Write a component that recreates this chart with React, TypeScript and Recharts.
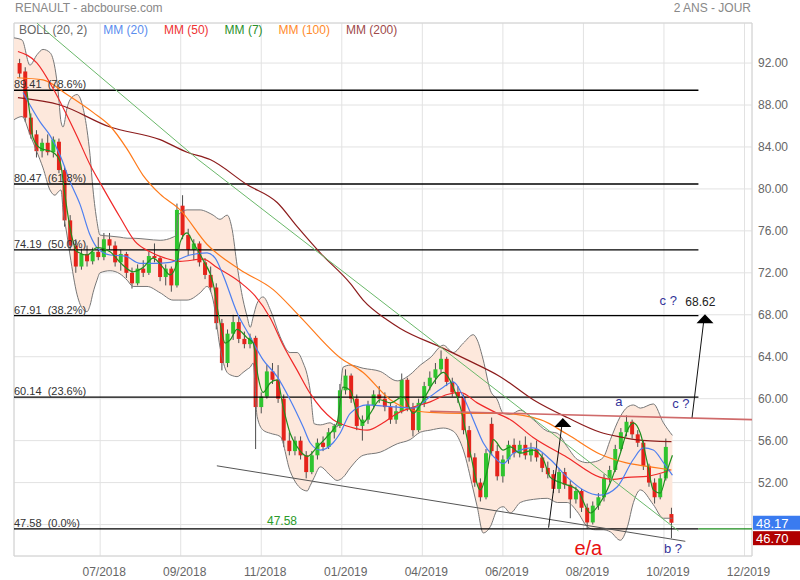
import React from "react";
import {
    Area, Bar, CartesianGrid, ComposedChart, Line, ReferenceArea,
    ReferenceDot, ReferenceLine, XAxis, YAxis
} from "recharts";

// x axis = trading day index
const xTicks = [46, 89, 132, 175, 218, 261, 304, 347, 390];
const xLabels = ['07/2018', '09/2018', '11/2018', '01/2019', '04/2019', '06/2019', '08/2019', '10/2019', '12/2019'];
const yTicks = [48, 52, 56, 60, 64, 68, 72, 76, 80, 84, 88, 92];

// [open, high, low, close], one candle every 3 trading days from day 3
const ohlc = [
    [92.0, 92.4, 90.6, 91.0], [91.2, 91.6, 86.4, 86.8], [86.8, 87.2, 84.8, 85.2], [85.2, 85.6, 83.0, 83.6],
    [83.6, 84.8, 83.0, 84.4], [84.4, 85.2, 83.2, 83.5], [83.5, 85.0, 83.0, 84.7], [84.5, 84.8, 81.5, 81.8],
    [81.8, 82.2, 76.4, 77.0], [77.0, 77.5, 74.2, 74.6], [74.6, 75.2, 72.0, 72.6], [72.6, 74.3, 72.3, 73.8],
    [73.8, 74.6, 72.6, 73.1], [73.1, 74.4, 72.8, 74.0], [74.0, 75.4, 73.2, 73.5], [73.5, 75.8, 73.2, 75.2],
    [75.2, 75.8, 74.2, 74.6], [74.6, 75.0, 72.6, 73.0], [73.0, 74.2, 72.2, 73.8], [73.8, 74.0, 71.5, 72.0],
    [72.0, 72.5, 70.5, 71.0], [71.0, 72.8, 70.8, 72.4], [72.4, 73.2, 71.6, 72.0], [72.0, 74.0, 71.8, 73.6],
    [73.6, 74.8, 73.0, 73.4], [73.4, 73.6, 71.2, 71.6], [71.6, 72.8, 70.8, 72.4], [72.4, 72.6, 70.2, 70.8],
    [70.8, 78.6, 70.6, 78.0], [78.4, 79.4, 75.2, 75.6], [75.6, 76.2, 73.6, 74.2], [74.2, 75.2, 73.2, 74.8],
    [74.8, 75.0, 72.6, 73.0], [73.0, 73.4, 71.4, 71.8], [71.8, 72.6, 70.2, 70.6], [70.6, 71.0, 66.6, 67.2],
    [67.2, 67.6, 62.7, 63.4], [63.4, 66.6, 63.0, 66.2], [66.2, 68.0, 65.6, 67.3], [67.3, 67.8, 65.3, 65.7],
    [65.7, 66.4, 64.8, 65.2], [65.2, 66.2, 64.8, 65.8], [65.8, 66.0, 55.2, 59.2], [59.2, 60.6, 58.6, 60.2],
    [60.2, 63.2, 60.0, 62.6], [62.6, 63.4, 61.4, 61.8], [61.8, 63.2, 59.6, 60.0], [60.0, 60.4, 55.4, 56.0],
    [56.0, 56.8, 54.6, 55.0], [55.0, 56.4, 54.6, 56.0], [56.0, 56.4, 54.2, 54.6], [54.6, 55.0, 52.4, 53.0],
    [53.0, 55.0, 52.8, 54.6], [54.6, 56.2, 54.2, 55.8], [55.8, 56.4, 55.0, 55.4], [55.4, 57.2, 55.2, 56.8],
    [56.8, 57.6, 56.2, 57.4], [57.4, 61.4, 57.2, 60.8], [60.8, 62.8, 60.4, 62.2], [62.2, 62.4, 59.6, 60.0],
    [60.0, 60.4, 57.0, 57.4], [57.4, 58.4, 56.0, 58.0], [58.0, 59.8, 57.6, 59.4], [59.4, 60.8, 59.0, 60.4],
    [60.4, 61.2, 59.6, 60.0], [60.0, 60.6, 58.8, 59.2], [59.2, 59.6, 57.6, 58.0], [58.0, 59.4, 57.6, 58.8],
    [58.8, 62.4, 58.6, 61.8], [61.8, 62.0, 58.8, 59.2], [59.2, 59.6, 56.4, 57.0], [57.0, 60.0, 56.8, 59.6],
    [59.6, 61.6, 59.2, 61.2], [61.2, 62.6, 60.8, 62.0], [62.0, 63.4, 61.4, 62.8], [62.8, 64.6, 62.4, 63.8],
    [63.8, 64.0, 61.2, 61.6], [61.6, 62.0, 60.2, 60.6], [60.6, 61.2, 59.6, 60.2], [60.2, 60.4, 56.6, 57.0],
    [57.0, 57.4, 54.0, 54.4], [54.4, 54.8, 51.6, 52.0], [52.0, 52.4, 50.2, 50.6], [50.6, 55.2, 50.4, 54.8],
    [57.6, 58.2, 54.6, 55.0], [55.0, 55.6, 52.2, 52.6], [52.6, 54.6, 52.0, 54.2], [54.2, 56.0, 53.8, 55.6],
    [55.6, 56.2, 54.4, 54.8], [54.8, 56.0, 54.4, 55.6], [55.6, 56.4, 54.2, 54.6], [54.6, 55.8, 54.0, 55.2],
    [55.2, 56.0, 54.0, 54.4], [54.4, 54.8, 53.0, 53.4], [53.4, 54.0, 52.4, 52.8], [52.8, 53.2, 51.0, 51.4],
    [51.4, 53.4, 51.0, 53.0], [53.0, 53.4, 51.4, 51.8], [51.8, 52.2, 48.6, 50.4], [50.4, 51.6, 50.0, 51.2],
    [51.2, 51.4, 49.2, 49.6], [49.6, 50.0, 47.6, 48.2], [48.2, 50.2, 48.0, 49.8], [49.8, 51.0, 49.4, 50.6],
    [50.6, 52.8, 50.2, 52.4], [52.4, 53.6, 52.0, 53.2], [53.2, 55.6, 53.0, 55.2], [55.2, 57.2, 55.0, 56.8],
    [56.8, 58.4, 56.4, 57.8], [57.8, 58.0, 56.2, 56.6], [56.6, 57.0, 55.4, 55.8], [55.8, 56.0, 53.2, 53.6],
    [53.6, 53.8, 51.6, 52.0], [52.0, 52.4, 50.0, 50.6], [50.6, 52.8, 50.4, 52.4], [52.4, 56.2, 52.2, 55.4],
    [49.0, 49.6, 46.7, 48.17],
];

// bollinger (20, 2): [day, upper, lower]
const boll = [
    [0, 94.4, 86.6], [4.3, 94.2, 86.9], [8.5, 91.8, 85.2], [12.3, 92.8, 83.5], [15.5, 93.3, 82.0],
    [19.2, 93.0, 79.9], [21.9, 91.5, 79.4], [23.5, 89.4, 79.7], [25.1, 86.4, 79.9], [26.2, 85.9, 78.0],
    [28.3, 87.7, 75.6], [29.9, 88.5, 73.7], [33.7, 89.0, 69.9], [36.9, 87.7, 68.5], [39.0, 85.6, 68.3],
    [40.6, 83.2, 68.9], [42.2, 79.9, 70.1], [44.3, 76.9, 71.3], [45.9, 75.6, 72.0], [51.3, 75.5, 72.2],
    [56.6, 75.4, 71.9], [60.4, 75.3, 71.3], [63.6, 75.3, 70.7], [71.0, 75.2, 70.7], [78.0, 75.1, 70.1],
    [84.9, 75.4, 69.4], [86.5, 75.6, 69.4], [87.6, 77.5, 69.4], [92.4, 78.0, 69.4], [99.4, 78.0, 70.1],
    [103.1, 77.8, 70.7], [106.3, 77.5, 69.4], [110.0, 77.1, 64.9], [113.8, 77.5, 62.5], [116.5, 76.1, 62.2],
    [119.1, 72.7, 62.1], [122.3, 69.4, 62.5], [124.5, 67.8, 62.8], [126.1, 66.8, 63.0], [127.7, 67.8, 63.4],
    [129.8, 69.1, 58.3], [133.0, 69.7, 57.0], [136.8, 68.5, 56.7], [142.1, 65.9, 56.4], [147.4, 64.4, 53.1],
    [151.2, 64.4, 51.8], [154.4, 63.4, 51.3], [156.5, 62.3, 51.2], [158.1, 60.8, 51.7], [160.3, 57.6, 52.5],
    [163.5, 57.5, 53.5], [168.8, 57.7, 52.7], [172.5, 57.3, 52.2], [175.7, 63.0, 52.5], [179.5, 63.2, 53.4],
    [186.4, 62.9, 54.6], [195.5, 62.6, 54.9], [204.6, 61.7, 55.7], [211.5, 62.3, 56.1], [216.9, 63.2, 56.8],
    [222.2, 63.9, 57.0], [229.2, 65.1, 57.2], [234.5, 64.4, 56.9], [239.9, 65.3, 55.1], [245.2, 66.1, 51.3],
    [247.3, 65.6, 49.7], [250.5, 63.7, 47.2], [254.3, 60.8, 47.8], [258.0, 59.9, 49.4], [261.2, 58.6, 49.7],
    [265.0, 58.5, 49.1], [270.3, 58.9, 50.1], [277.3, 58.0, 50.4], [284.7, 56.9, 50.5], [290.1, 56.7, 50.1],
    [295.4, 55.4, 50.1], [300.8, 54.2, 49.2], [306.1, 53.9, 47.8], [310.4, 54.0, 47.5], [314.6, 54.4, 47.5],
    [318.4, 56.1, 47.3], [323.7, 58.3, 46.5], [327.5, 59.2, 47.8], [330.7, 59.4, 50.1], [334.4, 59.1, 51.3],
    [341.3, 59.5, 49.9], [346.7, 57.7, 48.6], [351.5, 56.5, 48.6],
];

// moving averages: [day, value]
const mm7 = [
    [6.9, 89.3], [8.5, 87.1], [10.1, 84.9], [13.9, 83.9], [20.8, 83.5], [24.6, 82.6], [27.2, 79.4], [29.9, 76.3],
    [33.7, 74.0], [39.0, 73.7], [44.3, 74.4], [51.3, 74.0], [56.6, 73.0], [63.6, 72.1], [68.9, 72.5], [74.3, 73.4],
    [79.6, 72.5], [83.3, 71.8], [87.1, 73.0], [88.7, 74.9], [92.4, 75.8], [95.6, 74.9], [101.0, 73.2], [106.3, 71.0],
    [110.0, 67.2], [112.7, 65.3], [115.4, 65.6], [119.1, 66.6], [124.5, 65.8], [127.7, 65.3], [130.3, 62.1],
    [133.0, 60.6], [136.8, 61.5], [140.5, 61.8], [143.7, 59.2], [147.4, 56.7], [151.2, 55.4], [156.5, 54.5],
    [161.9, 55.4], [167.2, 56.4], [172.5, 57.7], [175.6, 61.1], [179.5, 60.8], [183.2, 58.6], [186.4, 57.7],
    [190.2, 58.6], [195.5, 59.9], [200.9, 59.6], [207.8, 60.2], [213.1, 58.6], [218.5, 59.9], [223.8, 61.5],
    [229.2, 62.5], [234.5, 61.1], [238.3, 59.2], [243.6, 54.8], [248.9, 51.3], [252.7, 53.2], [255.9, 56.1],
    [261.2, 55.1], [265.0, 55.4], [270.3, 54.8], [277.2, 55.1], [282.6, 54.2], [286.3, 52.5], [291.7, 52.0],
    [300.8, 51.3], [307.7, 49.1], [313.0, 50.1], [318.4, 52.0], [323.7, 54.8], [327.5, 57.0], [330.7, 57.7],
    [334.4, 56.7], [338.1, 53.9], [341.3, 51.3], [345.0, 51.0], [348.8, 53.2], [351.5, 54.6],
];
const mm20 = [
    [4.8, 89.2], [13.9, 86.4], [19.2, 85.1], [24.6, 83.2], [29.9, 80.7], [35.3, 78.5], [40.6, 75.6], [44.3, 74.4],
    [51.3, 73.7], [59.3, 73.6], [67.3, 72.9], [75.3, 72.9], [83.3, 73.0], [94.0, 73.7], [103.1, 73.9], [107.4, 73.4],
    [111.6, 71.8], [119.1, 68.2], [126.1, 65.9], [133.0, 63.7], [140.5, 62.1], [147.4, 59.9], [154.4, 57.3],
    [158.1, 55.8], [163.5, 55.1], [170.4, 55.8], [174.1, 56.7], [179.5, 58.6], [188.6, 59.4], [197.1, 59.3],
    [204.6, 59.2], [213.1, 59.1], [222.2, 60.2], [229.2, 61.1], [234.5, 61.6], [239.8, 60.2], [245.2, 58.0],
    [250.5, 55.8], [255.9, 54.5], [261.2, 53.8], [266.6, 54.8], [277.2, 55.3], [286.3, 54.2], [295.4, 52.5],
    [303.9, 51.3], [313.0, 50.8], [322.1, 51.6], [330.6, 54.2], [336.0, 55.3], [341.3, 55.1], [346.7, 53.9],
    [351.5, 52.7],
];
const mm50 = [
    [2.1, 93.1], [12.3, 92.0], [20.8, 89.6], [28.3, 87.0], [33.7, 85.0], [40.6, 82.3], [47.5, 80.1], [56.6, 77.3],
    [64.6, 75.0], [72.6, 74.0], [80.7, 73.4], [88.7, 73.1], [101.0, 73.3], [108.4, 72.5], [120.7, 71.1],
    [128.7, 69.8], [136.8, 67.7], [143.7, 65.1], [151.2, 62.7], [158.1, 60.5], [170.4, 58.0], [179.5, 57.3],
    [188.6, 57.0], [197.1, 57.7], [204.6, 58.6], [213.1, 59.2], [222.2, 59.7], [231.3, 60.4], [238.2, 60.6],
    [247.3, 59.6], [258.0, 58.6], [265.0, 58.0], [277.2, 56.3], [295.4, 54.4], [313.0, 52.5], [320.0, 52.3],
    [327.5, 52.5], [338.1, 52.6], [350.4, 53.2],
];
const mm100 = [
    [1.6, 90.6], [15.5, 90.4], [28.3, 89.0], [42.2, 87.3], [51.3, 86.0], [60.4, 83.8], [68.9, 81.3], [78.0, 79.5],
    [88.7, 78.0], [103.1, 74.7], [120.7, 72.3], [138.4, 70.4], [152.8, 67.8], [174.1, 63.9], [186.4, 62.5],
    [200.9, 59.9], [213.1, 58.9], [222.2, 58.7], [239.8, 58.6], [259.6, 58.6], [281.0, 58.0], [295.4, 56.6],
    [313.0, 54.7], [326.4, 53.9], [339.7, 53.5], [351.0, 53.2],
];
const mm200 = [
    [2.1, 88.7], [24.6, 88.0], [51.3, 85.9], [78.0, 84.7], [92.4, 83.5], [104.7, 82.8], [124.5, 80.4],
    [140.5, 78.7], [151.2, 76.4], [163.5, 73.9], [179.5, 71.0], [186.4, 69.4], [199.3, 67.5], [206.2, 66.7],
    [229.2, 64.8], [242.0, 63.7], [259.6, 62.1], [277.2, 59.9], [295.4, 58.2], [313.0, 56.8], [322.1, 56.4],
    [331.7, 56.1], [351.0, 55.9],
];

// fibonacci retracement levels
const fibLevels = [89.41, 80.47, 74.19, 67.91, 60.14, 47.58];
const fibPcts = ['78.6%', '61.8%', '50.0%', '38.2%', '23.6%', '0.0%'];
const fibEnd = 365.4;

// drawn trend lines / arrows: [day, price]
const greenTrend = [[12.3, 95.8], [98.3, 82.8], [354.7, 47.4]];
const grayTrend = [[108.3, 53.6], [358.4, 46.4]];
const redTrend = [[222.2, 58.8], [394, 58.0]];
const arrowA = [[285.4, 47.7], [292.6, 57.6]];
const arrowB = [[362.0, 58.2], [368.3, 67.5]];
const arrowHeads = [[293.0, 57.3], [368.9, 67.2]];

// wave labels: [day, price, text]
const waveNotes: [number, number, string][] = [
    [349.3, 69.4, 'c ?'], [322.9, 59.8, 'a'], [356.0, 59.6, 'c ?'], [351.8, 45.8, 'b ?'],
];
const target = 68.62;
const lastPrice = 48.17;
const lowPrice = 46.70;

const legend = [
    ['BOLL (20, 2)', '#666666'], ['MM (20)', '#5a8dee'], ['MM (50)', '#ee3333'],
    ['MM (7)', '#2a8f2a'], ['MM (100)', '#ff8a2a'], ['MM (200)', '#a04a4a'],
];

const candles = ohlc.map(([o, h, l, c], i) => ({t: 3 + 3 * i, o, h, l, c}));
const bollData = boll.map(([t, up, lo]) => ({t, up, lo}));
const pts = (arr: number[][]) => arr.map(([t, v]) => ({t, v}));
const seg = (a: number[][], i = 0) => [{x: a[i][0], y: a[i][1]}, {x: a[i + 1][0], y: a[i + 1][1]}];

const Candle = (props: any) => {
    const {x, y, width, height, payload} = props;
    if (!payload || isNaN(y) || isNaN(height)) return <g/>;
    const {o, h, l, c} = payload;
    const top0 = Math.min(y, y + height);
    const hh = Math.abs(height);
    const k = h === l ? 0 : hh / (h - l);
    const top = top0 + (h - Math.max(o, c)) * k;
    const bot = top0 + (h - Math.min(o, c)) * k;
    const mid = x + (width || 0) / 2;
    const bw = 4;
    return (
        <g>
            <line x1={mid} x2={mid} y1={top0} y2={top0 + hh} stroke="#4d4d4d" strokeWidth={1}/>
            <rect x={mid - bw / 2} y={top} width={bw} height={Math.max(1, bot - top)}
                  fill={c >= o ? '#2fc42f' : '#e5231b'}/>
        </g>
    );
};

const font = '"Liberation Sans", Arial, sans-serif';

export default function App() {
    return (
        <div style={{position: 'absolute', left: 0, top: 0, width: 800, height: 580, background: '#fff', fontFamily: font}}>
            <ComposedChart width={800} height={580} data={candles}
                           margin={{top: 23, right: 0, bottom: 0, left: 14}}
                           style={{fontFamily: font}}>
                <CartesianGrid stroke="#e2e2e2"/>
                <XAxis dataKey="t" type="number" domain={[0, 394]} ticks={xTicks} allowDataOverflow
                       axisLine={false} tickLine={false} tickSize={0} height={24} interval={0}
                       tick={(p: any) => (
                           <text x={p.x + 4} y={p.y + 18} textAnchor="middle" fill="#666" fontSize={12}>
                               {xLabels[xTicks.indexOf(p.payload.value)]}
                           </text>
                       )}/>
                {/* the 48.00 label sits under the last-price badge, as in the original */}
                <YAxis orientation="right" type="number" domain={[45, 95.82]} ticks={yTicks} allowDataOverflow
                       axisLine={false} tickLine={false} tickSize={0} width={48} interval={0}
                       tick={(p: any) => p.payload.value === 48 ? <g/> : (
                           <text x={p.x + 4} y={p.y + 4} fill="#666" fontSize={12}>
                               {p.payload.value.toFixed(2)}
                           </text>
                       )}/>
                <ReferenceArea x1={0} x2={394} y1={45} y2={95.82} fill="none" stroke="#d4d4d4" ifOverflow="visible"/>

                <Area data={bollData} dataKey={(d: any) => [d.lo, d.up]} type="monotone" stroke="none"
                      fill="#fde8dc" fillOpacity={1} isAnimationActive={false}/>
                <Line data={bollData} dataKey="up" type="monotone" stroke="#777" strokeWidth={1} dot={false}
                      isAnimationActive={false}/>
                <Line data={bollData} dataKey="lo" type="monotone" stroke="#777" strokeWidth={1} dot={false}
                      isAnimationActive={false}/>

                {fibLevels.map((lvl) => (
                    <ReferenceLine key={lvl} segment={[{x: 0, y: lvl}, {x: fibEnd, y: lvl}]}
                                   stroke="#000" strokeWidth={1.3} ifOverflow="visible"/>
                ))}
                <ReferenceLine segment={[{x: fibEnd, y: 47.58}, {x: 394, y: 47.58}]} stroke="#1a8a1a"
                               strokeWidth={1.3} ifOverflow="visible"/>

                <Bar dataKey={(d: any) => [d.l, d.h]} barSize={4} shape={(p: any) => <Candle {...p}/>}
                     isAnimationActive={false}/>

                <Line data={pts(mm200)} dataKey="v" type="monotone" stroke="#8c1c1c" strokeWidth={1.2} dot={false}
                      isAnimationActive={false}/>
                <Line data={pts(mm100)} dataKey="v" type="monotone" stroke="#ff7a1a" strokeWidth={1.2} dot={false}
                      isAnimationActive={false}/>
                <Line data={pts(mm50)} dataKey="v" type="monotone" stroke="#f02828" strokeWidth={1.2} dot={false}
                      isAnimationActive={false}/>
                <Line data={pts(mm20)} dataKey="v" type="monotone" stroke="#4d7ff0" strokeWidth={1.2} dot={false}
                      isAnimationActive={false}/>
                <Line data={pts(mm7)} dataKey="v" type="monotone" stroke="#1f8f1f" strokeWidth={1.2} dot={false}
                      isAnimationActive={false}/>

                <ReferenceLine segment={seg(greenTrend, 0)} stroke="#6ab86a" strokeWidth={1} ifOverflow="visible"/>
                <ReferenceLine segment={seg(greenTrend, 1)} stroke="#6ab86a" strokeWidth={1} ifOverflow="visible"/>
                <ReferenceLine segment={seg(grayTrend)} stroke="#555" strokeWidth={1} ifOverflow="visible"/>
                <ReferenceLine segment={seg(redTrend)} stroke="#cf6a6a" strokeWidth={1.6} ifOverflow="visible"/>
                <ReferenceLine segment={seg(arrowA)} stroke="#111" strokeWidth={1} ifOverflow="visible"/>
                <ReferenceLine segment={seg(arrowB)} stroke="#111" strokeWidth={1} ifOverflow="visible"/>
                {arrowHeads.map(([t, v]) => (
                    <ReferenceDot key={t} x={t} y={v} r={0} ifOverflow="visible"
                                  shape={(p: any) => (
                                      <polygon points={`${p.cx},${p.cy - 9} ${p.cx - 8.5},${p.cy} ${p.cx + 8.5},${p.cy}`}
                                               fill="#000"/>
                                  )}/>
                ))}

                {fibLevels.map((lvl, i) => (
                    <ReferenceDot key={'l' + lvl} x={0} y={lvl} r={0} ifOverflow="visible"
                                  shape={(p: any) => (
                                      <text x={p.cx} y={p.cy - 2} fontSize={11} fill="#333">
                                          {lvl.toFixed(2) + '\u00a0 (' + fibPcts[i] + ')'}
                                      </text>
                                  )}/>
                ))}
                <ReferenceDot x={143.1} y={48.35} r={0} ifOverflow="visible"
                              shape={(p: any) => (
                                  <text x={p.cx} y={p.cy + 4} textAnchor="middle" fontSize={12} fill="#2a9a2a">47.58</text>
                              )}/>
                {waveNotes.map(([t, v, txt]) => (
                    <ReferenceDot key={t} x={t} y={v} r={0} ifOverflow="visible"
                                  shape={(p: any) => (
                                      <text x={p.cx} y={p.cy + 5} textAnchor="middle" fontSize={13} fill="#333399">{txt}</text>
                                  )}/>
                ))}
                <ReferenceDot x={358.4} y={69.23} r={0} ifOverflow="visible"
                              shape={(p: any) => (
                                  <text x={p.cx} y={p.cy + 4.5} fontSize={12} fill="#222">{target.toFixed(2)}</text>
                              )}/>
                <ReferenceDot x={306.6} y={45.8} r={0} ifOverflow="visible"
                              shape={(p: any) => (
                                  <text x={p.cx} y={p.cy + 7} textAnchor="middle" fontSize={20} fill="#e81010">e/a</text>
                              )}/>

                {[[lastPrice, '#3a7bf0'], [lowPrice, '#b00000']].map(([val, col]: any) => (
                    <ReferenceDot key={col} x={394} y={val} r={0} ifOverflow="visible"
                                  shape={(p: any) => (
                                      <g>
                                          <rect x={p.cx + 1} y={p.cy - 7} width={47} height={14} fill={col}/>
                                          <text x={p.cx + 4} y={p.cy + 5} fontSize={13} fill="#fff">{val.toFixed(2)}</text>
                                      </g>
                                  )}/>
                ))}
            </ComposedChart>

            <div style={{position: 'absolute', left: 15, top: 1, fontSize: 12, lineHeight: '14px', color: '#888'}}>
                RENAULT - abcbourse.com
            </div>
            <div style={{position: 'absolute', right: 49, top: 1, fontSize: 12, lineHeight: '14px', color: '#888'}}>
                2 ANS - JOUR
            </div>
            <div style={{position: 'absolute', left: 19, top: 23, fontSize: 12, lineHeight: '14px', whiteSpace: 'pre'}}>
                {legend.map(([txt, col]) => (
                    <span key={txt} style={{color: col, marginRight: 16}}>{txt}</span>
                ))}
            </div>
        </div>
    );
}
